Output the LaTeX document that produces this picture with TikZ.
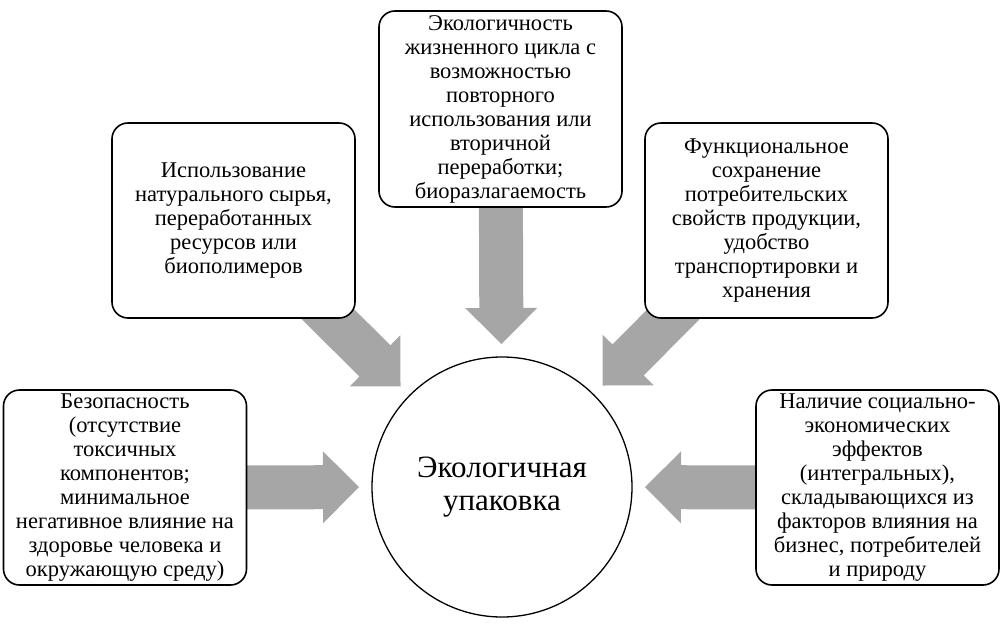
\documentclass[tikz,border=0pt]{standalone}
\usepackage{fontspec}
\setmainfont{Liberation Serif}
\usetikzlibrary{calc,backgrounds}
\definecolor{arrowgray}{RGB}{166,166,166}
\newcommand{\blockarrow}[1]{%
  \coordinate (t) at ($(eco.center)!143pt!(#1.center)$);
  \coordinate (h) at ($(t)!36pt!(#1.center)$);
  \fill[arrowgray] (t) -- ($(h)!36pt!90:(t)$) -- ($(h)!22pt!90:(t)$) -- ($(#1.center)!22pt!90:(t)$)
    -- ($(#1.center)!22pt!-90:(t)$) -- ($(h)!22pt!-90:(t)$) -- ($(h)!36pt!-90:(t)$) -- cycle;}
\begin{document}
\begin{tikzpicture}[x=1pt,y=-1pt,
  box/.style={draw, line width=1.6pt, rounded corners=16pt, fill=white, minimum width=243pt,
    minimum height=195pt, align=center, inner sep=1pt, font=\fontsize{22.5}{24}\selectfont}]
	\useasboundingbox (0,0) rectangle (1002,629);
	\node[circle, draw, line width=1.3pt, minimum size=260pt, inner sep=0pt, fill=white, align=center,
	  font=\fontsize{31}{33}\selectfont] (eco) at (502,487) {Экологичная\\упаковка};
	\node[box] (safety) at (125,487.5) {Безопасность\\(отсутствие\\токсичных\\компонентов;\\минимальное\\негативное влияние на\\здоровье человека и\\окружающую среду)};
	\node[box] (raw) at (233.5,220.5) {Использование\\натурального сырья,\\переработанных\\ресурсов или\\биополимеров};
	\node[box, minimum height=196pt] (lifecycle) at (500.5,109) {Экологичность\\жизненного цикла с\\возможностью\\повторного\\использования или\\вторичной\\переработки;\\биоразлагаемость};
	\node[box] (func) at (766.5,220.5) {Функциональное\\сохранение\\потребительских\\свойств продукции,\\удобство\\транспортировки и\\хранения};
	\node[box] (social) at (877.5,487.5) {Наличие социально-\\экономических\\эффектов\\(интегральных),\\складывающихся из\\факторов влияния на\\бизнес, потребителей\\и природу};
	\begin{scope}[on background layer]
	\foreach \b in {safety,raw,lifecycle,func,social} {\blockarrow{\b}}
	\end{scope}
\end{tikzpicture}
\end{document}
